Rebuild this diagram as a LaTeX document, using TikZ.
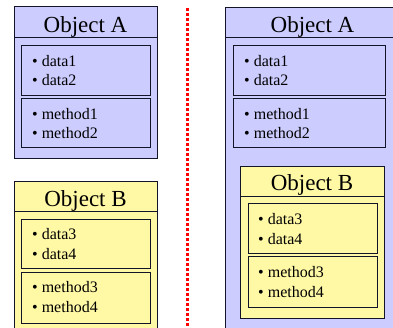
\documentclass[tikz,border=0pt]{standalone}
\usepackage{fontspec}
\setmainfont{Liberation Serif}
\newfontfamily\boxserif{Liberation Serif}
\definecolor{objblue}{RGB}{204,204,255}
\definecolor{objyellow}{RGB}{255,249,166}
\definecolor{frame}{RGB}{20,20,40}
\begin{document}
\begin{tikzpicture}[x=1pt,y=-1pt,
  objbox/.style={draw=frame, line width=1pt, anchor=north west, inner sep=0pt, outer sep=0pt},
  partbox/.style={draw=frame, line width=1pt, anchor=north west, inner sep=0pt, outer sep=0pt},
  titletext/.style={font=\boxserif\fontsize{23}{27}\selectfont, anchor=base, inner sep=0pt},
  item/.style={font=\boxserif\fontsize{16}{19}\selectfont, anchor=base west, inner sep=0pt},
  dotline/.style={draw=red, line width=3pt, dash pattern=on 3pt off 2pt}
]
\useasboundingbox (0,0) rectangle (393,328);
\clip (0,0) rectangle (393,328);

% ---- left column: Object A ----
\node[objbox, fill=objblue, minimum width=143pt, minimum height=152pt] (la) at (14,7) {};
\draw[line width=1pt, draw=frame] (la.north west |- 0,38) coordinate (lasepw) -- (la.north east |- 0,38) coordinate (lasepe);
\node[titletext] (latitle) at (85.5,32.5) {Object A};
\node[partbox, minimum width=129pt, minimum height=50pt] (ladata) at (21,46) {};
\node[partbox, minimum width=129pt, minimum height=49pt] (lameth) at (21,99) {};
\node[item] (lad1) at (32,66.5) {\textbullet\ data1};
\node[item] (lad2) at (32,86) {\textbullet\ data2};
\node[item] (lam1) at (32,119.5) {\textbullet\ method1};
\node[item] (lam2) at (32,139) {\textbullet\ method2};

% ---- left column: Object B ----
\node[objbox, fill=objyellow, minimum width=143pt, minimum height=160pt] (lb) at (14,182) {};
\draw[line width=1pt, draw=frame] (lb.north west |- 0,212) coordinate (lbsepw) -- (lb.north east |- 0,212) coordinate (lbsepe);
\node[titletext] (lbtitle) at (85.5,206.7) {Object B};
\node[partbox, minimum width=129pt, minimum height=49pt] (lbdata) at (21,220) {};
\node[partbox, minimum width=129pt, minimum height=50pt] (lbmeth) at (21,273) {};
\node[item] (lbd1) at (32,240) {\textbullet\ data3};
\node[item] (lbd2) at (32,259.5) {\textbullet\ data4};
\node[item] (lbm1) at (32,293) {\textbullet\ method3};
\node[item] (lbm2) at (32,312.5) {\textbullet\ method4};

% ---- separator ----
\coordinate (dtop) at (187.3,8);
\coordinate (dbot) at (187.3,326);
\draw[dotline] (dtop) -- (dbot);

% ---- right column: Object A containing Object B ----
\node[objbox, fill=objblue, minimum width=175pt, minimum height=340pt] (ra) at (225,7.5) {};
\draw[line width=1pt, draw=frame] (ra.north west |- 0,38) coordinate (rasepw) -- (ra.north east |- 0,38) coordinate (rasepe);
\node[titletext] (ratitle) at (312.5,32.5) {Object A};
\node[partbox, minimum width=152pt, minimum height=50pt] (radata) at (233,46) {};
\node[partbox, minimum width=152pt, minimum height=49pt] (rameth) at (233,99) {};
\node[item] (rad1) at (244,66.5) {\textbullet\ data1};
\node[item] (rad2) at (244,86) {\textbullet\ data2};
\node[item] (ram1) at (244,119.5) {\textbullet\ method1};
\node[item] (ram2) at (244,139) {\textbullet\ method2};

\node[objbox, fill=objyellow, minimum width=144pt, minimum height=151pt] (rb) at (240,167) {};
\draw[line width=1pt, draw=frame] (rb.north west |- 0,197) coordinate (rbsepw) -- (rb.north east |- 0,197) coordinate (rbsepe);
\node[titletext] (rbtitle) at (312,190.7) {Object B};
\node[partbox, minimum width=129pt, minimum height=50pt] (rbdata) at (248,204) {};
\node[partbox, minimum width=129pt, minimum height=50pt] (rbmeth) at (248,257) {};
\node[item] (rbd1) at (258,225) {\textbullet\ data3};
\node[item] (rbd2) at (258,244.5) {\textbullet\ data4};
\node[item] (rbm1) at (258,278) {\textbullet\ method3};
\node[item] (rbm2) at (258,297.5) {\textbullet\ method4};
\end{tikzpicture}
\end{document}
